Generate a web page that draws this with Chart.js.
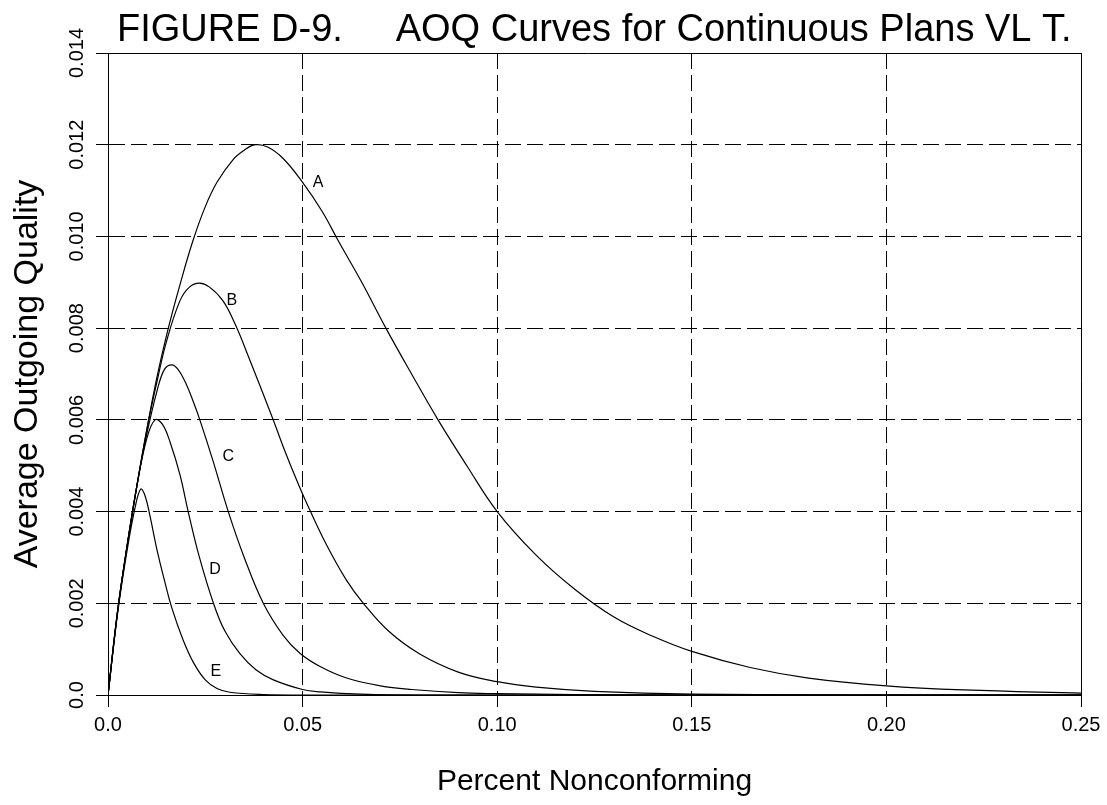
<!DOCTYPE html>
<html>
<head>
<meta charset="utf-8">
<script src="https://cdn.jsdelivr.net/npm/chart.js@4/dist/chart.umd.min.js"></script>
<style>
  html, body { margin: 0; padding: 0; background: #fff; }
  #wrap { width: 1107px; height: 805px; }
</style>
</head>
<body>
<div id="wrap"><canvas id="myChart" width="1107" height="805"></canvas></div>
<script>
// values
const aX = [0, 0.0025, 0.005, 0.0075, 0.01, 0.0125, 0.0155, 0.0185, 0.0218, 0.025, 0.028, 0.0322, 0.035, 0.0378, 0.041, 0.045, 0.05, 0.055, 0.0592, 0.0652, 0.0714, 0.078, 0.0848, 0.0922, 0.1, 0.11, 0.12, 0.13, 0.14, 0.15, 0.165, 0.18, 0.2, 0.22, 0.25];
const aY = [0, 0.00185, 0.0033, 0.0046, 0.0058, 0.0069, 0.008, 0.00895, 0.0099, 0.01065, 0.01118, 0.01168, 0.01188, 0.012, 0.01195, 0.0117, 0.01118, 0.01055, 0.0099, 0.009, 0.008, 0.007, 0.006, 0.005, 0.004, 0.00305, 0.0023, 0.0017, 0.00128, 0.00095, 0.0006, 0.00037, 0.0002, 0.00011, 0.00004];

const bX = [0, 0.0025, 0.005, 0.0075, 0.01, 0.0125, 0.015, 0.0185, 0.021, 0.0235, 0.026, 0.0295, 0.0326, 0.036, 0.042, 0.046, 0.0493, 0.0515, 0.056, 0.0613, 0.0656, 0.072, 0.08, 0.09, 0.1, 0.11, 0.125, 0.15, 0.2, 0.25];
const bY = [0, 0.00185, 0.0033, 0.0046, 0.0058, 0.0068, 0.0077, 0.0086, 0.0089, 0.00898, 0.0089, 0.0086, 0.0081, 0.0074, 0.0061, 0.0052, 0.00452, 0.0041, 0.0033, 0.0025, 0.002, 0.0014, 0.0009, 0.0005, 0.00029, 0.00017, 0.00008, 0.00002, 0, 0];

const cX = [0, 0.0025, 0.005, 0.0075, 0.01, 0.0125, 0.0145, 0.0164, 0.018, 0.02, 0.0219, 0.0236, 0.027, 0.0309, 0.035, 0.0399, 0.045, 0.0493, 0.0545, 0.0613, 0.07, 0.078, 0.09, 0.1, 0.12, 0.15, 0.25];
const cY = [0, 0.00185, 0.0033, 0.0046, 0.0057, 0.0066, 0.0071, 0.0072, 0.0071, 0.0068, 0.0064, 0.006, 0.0051, 0.004, 0.003, 0.002, 0.0013, 0.00091, 0.00062, 0.00037, 0.0002, 0.00012, 0.00005, 0.00003, 0.00001, 0, 0];

const dX = [0, 0.0025, 0.005, 0.0075, 0.01, 0.0121, 0.014, 0.016, 0.0185, 0.0206, 0.0235, 0.0271, 0.03, 0.0339, 0.038, 0.0425, 0.05, 0.0545, 0.065, 0.08, 0.25];
const dY = [0, 0.00185, 0.0033, 0.0046, 0.0056, 0.006, 0.0059, 0.0055, 0.0048, 0.004, 0.003, 0.002, 0.0014, 0.0009, 0.00055, 0.00033, 0.00012, 0.00007, 0.00002, 0, 0];

const eX = [0, 0.0025, 0.005, 0.007, 0.0084, 0.0095, 0.0108, 0.0125, 0.0145, 0.0164, 0.0193, 0.022, 0.025, 0.028, 0.0313, 0.04, 0.05, 0.25];
const eY = [0, 0.0018, 0.0032, 0.0041, 0.00449, 0.00435, 0.0039, 0.0032, 0.0025, 0.0019, 0.0012, 0.0007, 0.00033, 0.00014, 0.00006, 0.00001, 0, 0];

const curveNames = ["A", "B", "C", "D", "E"];
const xTickLabels = ["0.0", "0.05", "0.10", "0.15", "0.20", "0.25"];
const yTickLabels = ["0.0", "0.002", "0.004", "0.006", "0.008", "0.010", "0.012", "0.014"];

// where the curve letters sit, in data units
const nameAt = [[0.054, 0.01117], [0.0318, 0.00861], [0.0309, 0.0052], [0.0275, 0.00273], [0.0277, 0.00051]];

const FONT = "'Liberation Sans', Arial, sans-serif";

function pts(xs, ys) {
  const out = [];
  for (var i = 0; i < xs.length; i++) out.push({ x: xs[i], y: ys[i] });
  return out;
}

const series = [[aX, aY], [bX, bY], [cX, cY], [dX, dY], [eX, eY]];
const datasets = [];
for (var j = 0; j < series.length; j++) {
  datasets.push({
    label: curveNames[j],
    data: pts(series[j][0], series[j][1]),
    borderColor: "#000",
    borderWidth: 1.2,
    pointRadius: 0,
    fill: false,
    tension: 0.4,
  });
}

// title, rotated y tick labels, curve letters and the solid frame
const extras = {
  id: "extras",
  afterDraw(chart) {
    const ctx = chart.ctx;
    const xs = chart.scales.x;
    const ys = chart.scales.y;
    const area = chart.chartArea;
    ctx.save();
    ctx.fillStyle = "#000";

    ctx.font = "38px " + FONT;
    ctx.textAlign = "left";
    ctx.textBaseline = "alphabetic";
    ctx.fillText("FIGURE D-9.     AOQ Curves for Continuous Plans VL T.", 117, 41);

    ctx.font = "20px " + FONT;
    ctx.textAlign = "center";
    ys.ticks.forEach(function (t, i) {
      const py = ys.getPixelForValue(t.value);
      ctx.save();
      ctx.translate(83, py);
      ctx.rotate(-Math.PI / 2);
      ctx.fillText(yTickLabels[i], 0, 0);
      ctx.restore();
    });

    ctx.font = "16px " + FONT;
    ctx.textBaseline = "middle";
    for (var k = 0; k < curveNames.length; k++) {
      ctx.fillText(curveNames[k], xs.getPixelForValue(nameAt[k][0]), ys.getPixelForValue(nameAt[k][1]));
    }

    ctx.strokeStyle = "#000";
    ctx.lineWidth = 1;
    ctx.setLineDash([]);
    ctx.beginPath();
    ctx.moveTo(area.left - 12, area.top + 0.5);
    ctx.lineTo(area.right + 0.5, area.top + 0.5);
    ctx.lineTo(area.right + 0.5, area.bottom + 12);
    ctx.stroke();
    ctx.restore();
  },
};

const gridOpts = {
  color: "#000",
  lineWidth: 1,
  tickLength: 12,
  tickColor: "#000",
  tickBorderDash: [],
};

const config = {
  type: "line",
  data: { datasets: datasets },
  options: {
    responsive: false,
    animation: false,
    layout: { padding: { top: 53, right: 26, left: 0, bottom: 0 } },
    plugins: { legend: { display: false }, tooltip: { enabled: false }, title: { display: false } },
    scales: {
      x: {
        type: "linear",
        min: 0,
        max: 0.25,
        grid: gridOpts,
        border: { display: true, color: "#000", width: 1, dash: [16, 6] },
        ticks: {
          stepSize: 0.05,
          color: "#000",
          padding: 6,
          maxRotation: 0,
          font: { family: FONT, size: 20 },
          callback: function (v, i) { return xTickLabels[i]; },
        },
        title: {
          display: true,
          text: "Percent Nonconforming",
          color: "#000",
          font: { family: FONT, size: 30 },
          padding: { top: 0, bottom: 5 },
        },
        afterFit: function (s) { s.height = 110; },
      },
      y: {
        type: "linear",
        min: 0,
        max: 0.014,
        grid: gridOpts,
        border: { display: true, color: "#000", width: 1, dash: [16, 6] },
        ticks: { stepSize: 0.002, display: false },
        title: {
          display: true,
          text: "Average Outgoing Quality",
          color: "#000",
          font: { family: FONT, size: 34 },
          padding: { top: 7, bottom: 0 },
        },
        afterFit: function (s) { s.width = 108; },
      },
    },
  },
  plugins: [extras],
};

const myChart = new Chart(document.getElementById("myChart"), config);
</script>
</body>
</html>
